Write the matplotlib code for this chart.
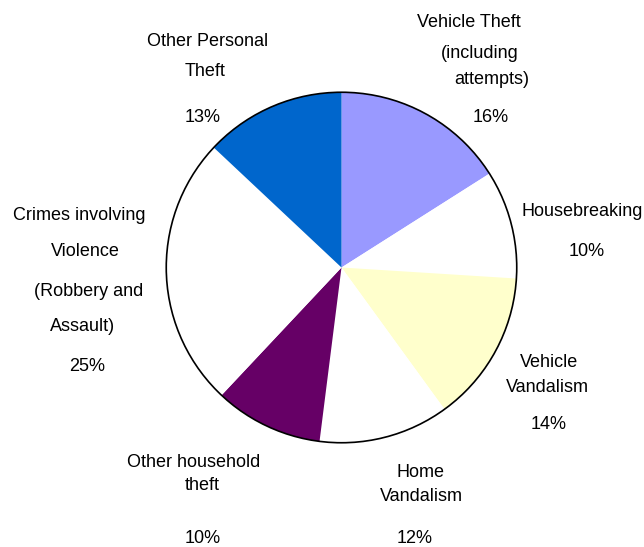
import matplotlib
matplotlib.use("Agg")
import matplotlib.pyplot as plt
from matplotlib.patches import Circle

# ---- data ----
categories = [
    "Vehicle Theft\n(including\nattempts)",
    "Housebreaking",
    "Vehicle\nVandalism",
    "Home\nVandalism",
    "Other household\ntheft",
    "Crimes involving\nViolence\n(Robbery and\nAssault)",
    "Other Personal\nTheft",
]
values = [16, 10, 14, 12, 10, 25, 13]
colors = ["#9999FF", "#FFFFFF", "#FFFFCC", "#FFFFFF", "#660066", "#FFFFFF", "#0066CC"]

# ---- layout (pixel positions of each label line: (x_center, baseline_y)) ----
W, H = 644, 547
line_pos = [
    [(469, 27), (480, 58), (492, 84), (491, 122)],
    [(582, 216), (587, 256)],
    [(549, 367), (547, 392), (549, 429)],
    [(421, 477), (421, 501), (415, 543)],
    [(194, 467), (202, 490), (203, 543)],
    [(79, 220), (85, 256), (89, 296), (83, 331), (87, 371)],
    [(208, 46), (205, 76), (203, 122)],
]

fig = plt.figure(figsize=(W / 100, H / 100), dpi=100)
fig.patch.set_facecolor("white")

cx, cy, r = 341.5, 267.5, 177
ax = fig.add_axes([(cx - r) / W, (H - cy - r) / H, 2 * r / W, 2 * r / H])
ax.pie(values, colors=colors, startangle=90, counterclock=False, radius=1,
       wedgeprops=dict(linewidth=0, antialiased=True))
ax.add_patch(Circle((0, 0), 1, fill=False, edgecolor="black", linewidth=1.2))
ax.set_xlim(-1.01, 1.01)
ax.set_ylim(-1.01, 1.01)
ax.set_aspect("equal")
ax.axis("off")

font = dict(family=["Liberation Sans", "DejaVu Sans"], fontsize=13, color="black")
for cat, val, pos in zip(categories, values, line_pos):
    lines = cat.split("\n") + [f"{val}%"]
    for txt, (x, y) in zip(lines, pos):
        fig.text(x / W, 1 - y / H, txt, ha="center", va="baseline", **font)

fig.savefig("out.png", dpi=100, facecolor="white")
